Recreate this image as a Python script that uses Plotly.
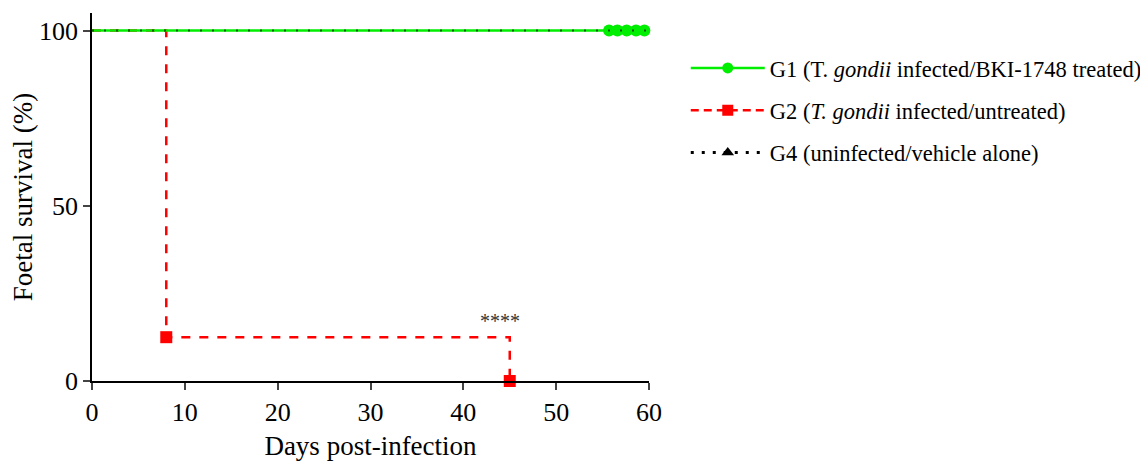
import plotly.graph_objects as go

# ---- data ----
g1_name = "G1 (T. <i>gondii</i> infected/BKI-1748 treated)"
g2_name = "G2 (<i>T. gondii</i> infected/untreated)"
g4_name = "G4 (uninfected/vehicle alone)"

g1_days = [0, 60]
g1_surv = [100, 100]
g1_censor_days = [55.7, 56.6, 57.6, 58.6, 59.5]
g1_censor_surv = [100, 100, 100, 100, 100]

g2_days = [0, 8, 45]
g2_surv = [100, 12.5, 0]
g2_event_days = [8, 45]
g2_event_surv = [12.5, 0]

g4_days = [0, 60]
g4_surv = [100, 100]
g4_censor_days = [56.3, 57.3, 58.3, 59.3]
g4_censor_surv = [100, 100, 100, 100]

x_ticks = [0, 10, 20, 30, 40, 50, 60]
y_ticks = [0, 50, 100]
sig_label = "****"
sig_pos = (44, 17)

FONT = "Liberation Serif"
GREEN = "#00ee00"
RED = "#ff0000"

fig = go.Figure()

# G4 censor marks (underneath)
fig.add_trace(go.Scatter(x=g4_censor_days, y=g4_censor_surv, mode="markers",
                         marker=dict(symbol="triangle-up", size=10, color="black"), showlegend=False, cliponaxis=False))
# G2
fig.add_trace(go.Scatter(x=g2_days, y=g2_surv, mode="lines", line=dict(color=RED, dash="dash", width=2.5),
                         line_shape="hv", showlegend=False, cliponaxis=False))
fig.add_trace(go.Scatter(x=g2_event_days, y=g2_event_surv, mode="markers",
                         marker=dict(symbol="square", size=12, color=RED), showlegend=False, cliponaxis=False))
# G1
fig.add_trace(go.Scatter(x=g1_days, y=g1_surv, mode="lines", line=dict(color=GREEN, width=2.5),
                         line_shape="hv", showlegend=False, cliponaxis=False))
fig.add_trace(go.Scatter(x=g1_censor_days, y=g1_censor_surv, mode="markers",
                         marker=dict(symbol="circle", size=12, color=GREEN), showlegend=False, cliponaxis=False))
# G4 dotted line on top of the green line
fig.add_trace(go.Scatter(x=g4_days, y=g4_surv, mode="lines", line=dict(color="black", dash="2px,10px", width=2),
                         line_shape="hv", showlegend=False, cliponaxis=False, opacity=0.6))

# legend entries
fig.add_trace(go.Scatter(x=[None], y=[None], mode="lines+markers", name=g1_name, legendgroup="g1",
                         line=dict(color=GREEN, width=2.5), marker=dict(symbol="circle", size=11, color=GREEN)))
fig.add_trace(go.Scatter(x=[None], y=[None], mode="lines+markers", name=g2_name, legendgroup="g2",
                         line=dict(color=RED, width=2.5, dash="8px,5px"), marker=dict(symbol="square", size=11, color=RED)))
fig.add_trace(go.Scatter(x=[None], y=[None], mode="lines+markers", name=g4_name, legendgroup="g4",
                         line=dict(color="black", width=3, dash="3px,8px"), marker=dict(symbol="triangle-up", size=11, color="black")))

fig.add_annotation(x=sig_pos[0], y=sig_pos[1], text=sig_label, showarrow=False,
                   font=dict(family=FONT, size=20, color="#333333"))

fig.update_layout(
    width=1148, height=462,
    margin=dict(l=84, r=507, t=5, b=89),
    plot_bgcolor="white", paper_bgcolor="white",
    font=dict(family=FONT, color="black"),
    legend=dict(x=1.066, y=0.908, xanchor="left", yanchor="top", traceorder="grouped",
                tracegroupgap=10, font=dict(family=FONT, size=22.5), itemwidth=74),
)
fig.update_xaxes(range=[0, 60], tickvals=x_ticks, ticks="outside", ticklen=7, tickwidth=1.5,
                 showline=True, linecolor="black", linewidth=1.5, showgrid=False, zeroline=False,
                 tickfont=dict(size=26), title=dict(text="Days post-infection", font=dict(size=27), standoff=10))
fig.update_yaxes(range=[0, 105], tickvals=y_ticks, ticks="outside", ticklen=7, tickwidth=1.5,
                 showline=True, linecolor="black", linewidth=1.5, showgrid=False, zeroline=False,
                 tickfont=dict(size=26), title=dict(text="Foetal survival (%)", font=dict(size=27), standoff=3))

fig.write_html("out.html")
